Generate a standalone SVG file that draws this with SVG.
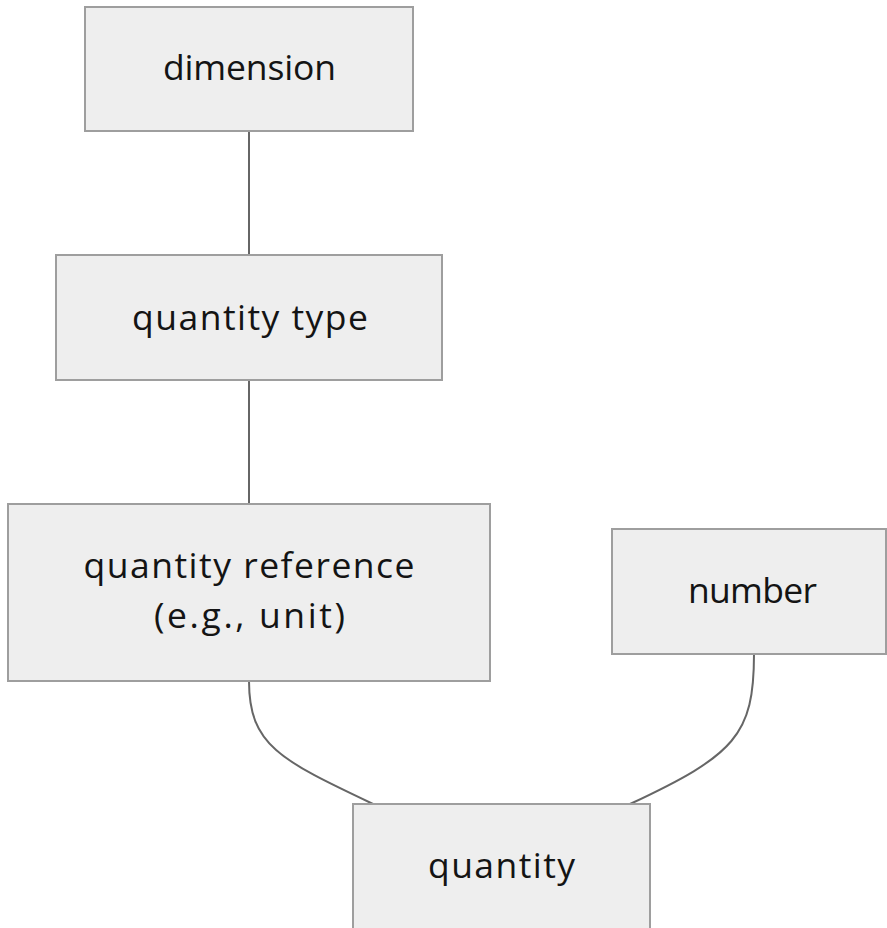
<svg xmlns="http://www.w3.org/2000/svg" width="887" height="928" viewBox="0 0 887 928">
  <style>
    .box { fill: #eeeeee; stroke: #9e9e9e; stroke-width: 2; }
    .lbl { font-family: "Open Sans", "Noto Sans", sans-serif; font-size: 35.5px; fill: #141414; text-anchor: middle; }
    .link { fill: none; stroke: #666666; stroke-width: 2; }
  </style>
  <rect width="887" height="928" fill="#ffffff"/>
  <g id="connectors">
    <path class="link" d="M249,131 V255"/>
    <path class="link" d="M249,380 V504"/>
    <path class="link" d="M249,681 C249,745 280,760 373,804"/>
    <path class="link" d="M754,654 C754,735 735,755 630,804"/>
  </g>
  <g id="dimension">
    <rect class="box" x="85" y="7" width="328" height="124"/>
    <text class="lbl" x="249.5" y="80" textLength="173" lengthAdjust="spacing">dimension</text>
  </g>
  <g id="quantity-type">
    <rect class="box" x="56" y="255" width="386" height="125"/>
    <text class="lbl" x="250" y="330" textLength="236" lengthAdjust="spacing">quantity type</text>
  </g>
  <g id="quantity-reference">
    <rect class="box" x="8" y="504" width="482" height="177"/>
    <text class="lbl" x="249" y="578" textLength="331" lengthAdjust="spacing">quantity reference</text>
    <text class="lbl" x="249.5" y="628" textLength="191" lengthAdjust="spacing">(e.g., unit)</text>
  </g>
  <g id="number">
    <rect class="box" x="612" y="529" width="274" height="125"/>
    <text class="lbl" x="752.5" y="603" textLength="129" lengthAdjust="spacing">number</text>
  </g>
  <g id="quantity">
    <rect class="box" x="353" y="804" width="297" height="135"/>
    <text class="lbl" x="501.5" y="878" textLength="147" lengthAdjust="spacing">quantity</text>
  </g>
</svg>
